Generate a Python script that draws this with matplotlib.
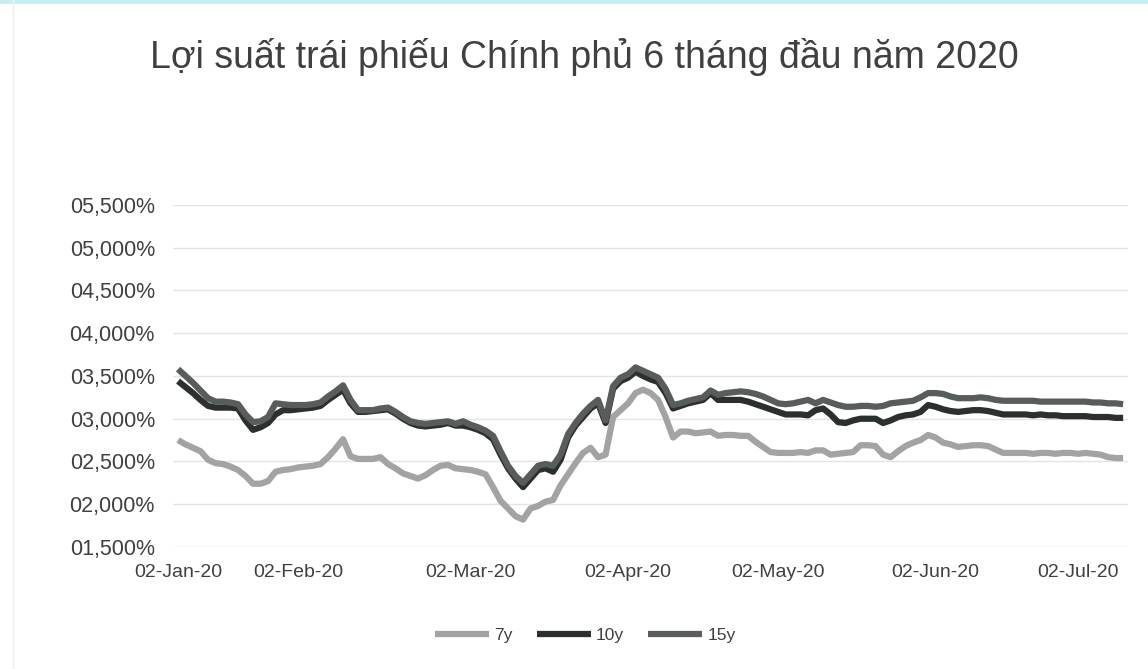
import numpy as np
import matplotlib
matplotlib.use("Agg")
import matplotlib.pyplot as plt
from matplotlib.ticker import FuncFormatter, FixedLocator
from matplotlib.lines import Line2D

plt.rcParams['font.family'] = ['Liberation Sans', 'DejaVu Sans']

title = "Lợi suất trái phiếu Chính phủ 6 tháng đầu năm 2020"

# lợi suất theo phiên giao dịch (%)
y7 = [2.75, 2.70, 2.66, 2.62, 2.52, 2.48, 2.47, 2.44, 2.40, 2.33,
      2.24, 2.24, 2.27, 2.38, 2.40, 2.41, 2.43, 2.44, 2.45, 2.47,
      2.55, 2.65, 2.76, 2.56, 2.53, 2.53, 2.53, 2.55, 2.47, 2.42,
      2.36, 2.33, 2.30, 2.34, 2.40, 2.45, 2.46, 2.42, 2.41, 2.40,
      2.38, 2.35, 2.20, 2.04, 1.95, 1.86, 1.82, 1.95, 1.98, 2.03,
      2.05, 2.22, 2.35, 2.48, 2.60, 2.66, 2.55, 2.58, 3.02, 3.10,
      3.18, 3.30, 3.34, 3.30, 3.22, 3.02, 2.78, 2.85, 2.85, 2.83,
      2.84, 2.85, 2.80, 2.81, 2.81, 2.80, 2.80, 2.73, 2.67, 2.61,
      2.60, 2.60, 2.60, 2.61, 2.60, 2.63, 2.63, 2.58, 2.59, 2.60,
      2.61, 2.69, 2.69, 2.68, 2.58, 2.55, 2.62, 2.68, 2.72, 2.75,
      2.81, 2.78, 2.72, 2.70, 2.67, 2.68, 2.69, 2.69, 2.68, 2.64,
      2.60, 2.60, 2.60, 2.60, 2.59, 2.60, 2.60, 2.59, 2.60, 2.60,
      2.59, 2.60, 2.59, 2.58, 2.55, 2.54, 2.54]
y10 = [3.44, 3.37, 3.30, 3.22, 3.15, 3.13, 3.13, 3.13, 3.12, 2.98,
       2.87, 2.90, 2.95, 3.05, 3.10, 3.10, 3.11, 3.12, 3.13, 3.15,
       3.22, 3.28, 3.34, 3.18, 3.08, 3.08, 3.09, 3.10, 3.11, 3.06,
       3.00, 2.95, 2.92, 2.91, 2.92, 2.93, 2.95, 2.92, 2.92, 2.90,
       2.87, 2.83, 2.76, 2.58, 2.42, 2.30, 2.20, 2.30, 2.40, 2.42,
       2.38, 2.52, 2.78, 2.92, 3.02, 3.12, 3.18, 2.95, 3.35, 3.44,
       3.48, 3.55, 3.50, 3.46, 3.43, 3.30, 3.12, 3.15, 3.18, 3.20,
       3.22, 3.30, 3.22, 3.22, 3.22, 3.22, 3.20, 3.17, 3.14, 3.11,
       3.08, 3.05, 3.05, 3.05, 3.04, 3.10, 3.12, 3.05, 2.96, 2.95,
       2.98, 3.00, 3.00, 3.00, 2.95, 2.98, 3.02, 3.04, 3.05, 3.08,
       3.16, 3.14, 3.11, 3.09, 3.08, 3.09, 3.10, 3.10, 3.09, 3.07,
       3.05, 3.05, 3.05, 3.05, 3.04, 3.05, 3.04, 3.04, 3.03, 3.03,
       3.03, 3.03, 3.02, 3.02, 3.02, 3.01, 3.01]
y15 = [3.58, 3.50, 3.42, 3.33, 3.24, 3.20, 3.20, 3.19, 3.17, 3.05,
       2.96, 2.97, 3.02, 3.18, 3.17, 3.16, 3.16, 3.16, 3.17, 3.19,
       3.26, 3.32, 3.39, 3.22, 3.10, 3.10, 3.10, 3.12, 3.13, 3.08,
       3.02, 2.97, 2.95, 2.94, 2.95, 2.96, 2.97, 2.94, 2.97, 2.93,
       2.90, 2.86, 2.80, 2.62, 2.45, 2.33, 2.25, 2.35, 2.45, 2.47,
       2.45, 2.58, 2.82, 2.95, 3.06, 3.15, 3.22, 2.98, 3.38, 3.48,
       3.52, 3.60, 3.56, 3.52, 3.48, 3.35, 3.16, 3.18, 3.21, 3.23,
       3.25, 3.33, 3.28, 3.30, 3.31, 3.32, 3.31, 3.29, 3.26, 3.22,
       3.18, 3.17, 3.18, 3.20, 3.22, 3.18, 3.22, 3.19, 3.16, 3.14,
       3.14, 3.15, 3.15, 3.14, 3.15, 3.18, 3.19, 3.20, 3.21, 3.25,
       3.30, 3.30, 3.29, 3.26, 3.24, 3.24, 3.24, 3.25, 3.24, 3.22,
       3.21, 3.21, 3.21, 3.21, 3.21, 3.20, 3.20, 3.20, 3.20, 3.20,
       3.20, 3.20, 3.19, 3.19, 3.18, 3.18, 3.17]

# nhãn trục x và phiên tương ứng
tick_pos = [0, 16, 39, 60, 80, 101, 120]
tick_labels = ['02-Jan-20', '02-Feb-20', '02-Mar-20', '02-Apr-20',
               '02-May-20', '02-Jun-20', '02-Jul-20']

text_col = '#404040'

fig = plt.figure(figsize=(11.48, 6.69), dpi=100)
ax = fig.add_axes([0.1507, 0.1824, 0.832, 0.5112])

x = np.arange(len(y7))
ax.plot(x, y7, color='#a3a3a3', lw=4.5, label='7y', solid_capstyle='butt')
ax.plot(x, y10, color='#2b302e', lw=4.5, label='10y', solid_capstyle='butt')
ax.plot(x, y15, color='#585d5b', lw=4.5, label='15y', solid_capstyle='butt')

ax.set_ylim(1.5, 5.5)
ax.set_yticks(np.arange(1.5, 5.51, 0.5))
ax.yaxis.set_major_formatter(FuncFormatter(
    lambda v, p: ('%06.3f' % v).replace('.', ',') + '%'))
ax.set_xlim(-0.67, 126.67)
ax.xaxis.set_major_locator(FixedLocator(tick_pos))
ax.set_xticklabels(tick_labels)

ax.grid(axis='y', color='#e4e4e4', lw=1)
ax.set_axisbelow(True)
for s in ax.spines.values():
    s.set_visible(False)
ax.tick_params(axis='both', length=0, labelcolor=text_col)
ax.tick_params(axis='y', pad=13, labelsize=15.5)
ax.tick_params(axis='x', pad=12, labelsize=14)

fig.text(0.509, 0.915, title, ha='center', va='center', fontsize=27,
         color=text_col)

fig.legend(loc='center', bbox_to_anchor=(0.51, 0.05), ncol=3, frameon=False,
           fontsize=12.5, labelcolor=text_col, handlelength=3.1,
           handletextpad=0.3, columnspacing=1.4)

# viền mờ của ảnh gốc
fig.add_artist(Line2D([0, 1], [0.997, 0.997], color='#c8eef0', lw=3,
                      transform=fig.transFigure))
fig.add_artist(Line2D([0.011, 0.011], [0, 1], color='#eeeeee', lw=1,
                      transform=fig.transFigure))

fig.savefig('out.png', dpi=100, facecolor='white')
